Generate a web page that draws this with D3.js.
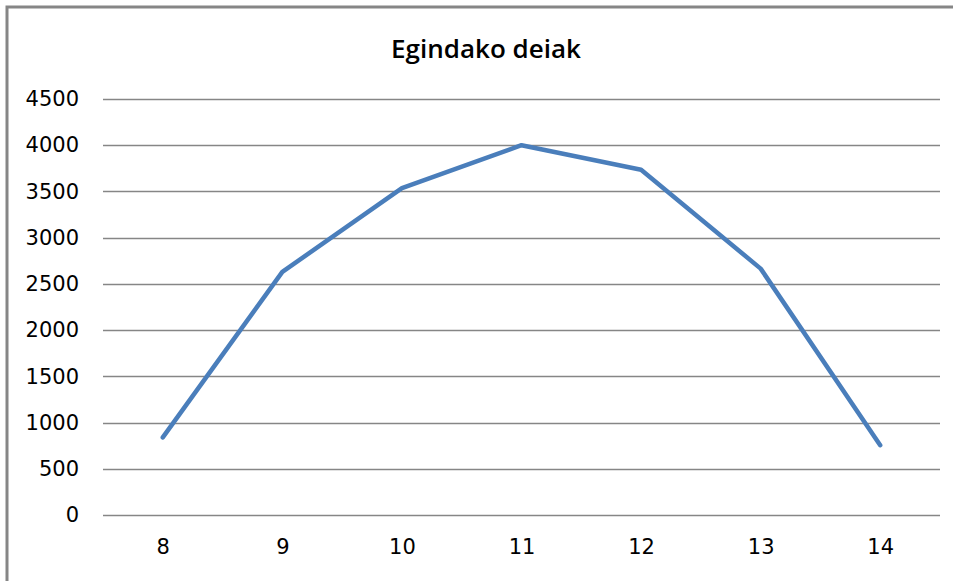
<!DOCTYPE html>
<html>
<head>
<meta charset="utf-8">
<script src="https://cdn.jsdelivr.net/npm/d3@7"></script>
<style>
  body { margin: 0; background: #fff; }
  svg { display: block; }
  .axis text { font-family: "DejaVu Sans", sans-serif; font-size: 21px; fill: #000; }
</style>
</head>
<body>
<div class="chart"></div>
<script>
const hours = ["8", "9", "10", "11", "12", "13", "14"];
const calls = [840, 2630, 3535, 4000, 3735, 2665, 755];
const yTicks = [0, 500, 1000, 1500, 2000, 2500, 3000, 3500, 4000, 4500];

const W = 953, H = 581;
const margin = { top: 99, right: 13, bottom: 66, left: 103 };
const width = W - margin.left - margin.right,
  height = H - margin.top - margin.bottom;

const root = d3.select(".chart").append("svg")
  .attr("width", W).attr("height", H);

// outer frame
root.append("rect")
  .attr("x", 7).attr("y", 7)
  .attr("width", W + 10).attr("height", H + 10)
  .attr("fill", "#fff")
  .attr("stroke", "#868686").attr("stroke-width", 3);

root.append("text")
  .attr("x", 486).attr("y", 58)
  .attr("text-anchor", "middle")
  .style("font-family", "Open Sans, sans-serif")
  .style("font-size", "26px")
  .style("font-weight", "600")
  .attr("fill", "#000")
  .text("Egindako deiak");

const svg = root.append("g")
  .attr("transform", `translate(${margin.left},${margin.top})`);

const xScale = d3.scalePoint().domain(hours).range([0, width]).padding(0.5);
const yScale = d3.scaleLinear().domain([0, 4500]).range([height, 0]);

// gridlines
svg.append("g").attr("class", "grid")
  .selectAll("line").data(yTicks).join("line")
  .attr("x1", 0).attr("x2", width)
  .attr("y1", d => Math.round(yScale(d)) + 0.5)
  .attr("y2", d => Math.round(yScale(d)) + 0.5)
  .attr("stroke", "#868686").attr("stroke-width", 1.3);

// y axis labels
const yAxis = d3.axisLeft(yScale).tickValues(yTicks).tickFormat(d3.format("d"))
  .tickSize(0).tickPadding(24);
svg.append("g").attr("class", "y axis").call(yAxis)
  .call(g => g.select(".domain").remove());

// x axis labels
const xAxis = d3.axisBottom(xScale).tickSize(0).tickPadding(24);
svg.append("g").attr("class", "x axis")
  .attr("transform", `translate(0,${height})`)
  .call(xAxis)
  .call(g => g.select(".domain").remove());

const line = d3.line()
  .x((d, i) => xScale(hours[i]))
  .y(d => yScale(d));

svg.append("path")
  .datum(calls)
  .attr("fill", "none")
  .attr("stroke", "#4a7ebb")
  .attr("stroke-width", 4.5)
  .attr("stroke-linejoin", "round")
  .attr("stroke-linecap", "round")
  .attr("d", line);
</script>
</body>
</html>
